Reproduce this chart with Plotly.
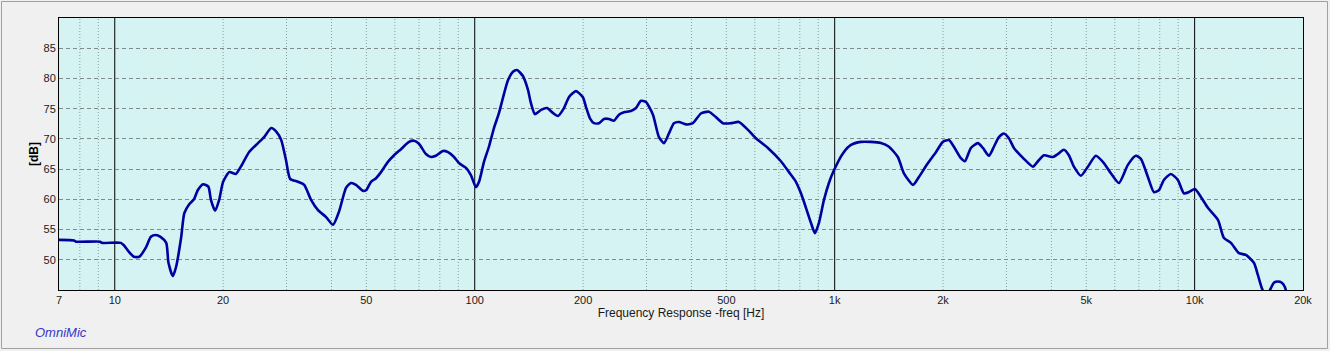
import math
import plotly.graph_objects as go

# ---- data ----
freq_hz = [7, 7.7, 7.8, 9.1, 9.2, 10.4, 10.6, 10.95, 11.3, 11.7, 12.2, 12.6, 13.0, 13.4, 13.9,
           14.1, 14.5, 14.8, 15.3, 15.6, 16.1, 16.6, 17.0, 17.6, 18.2, 18.5, 19.0, 19.5, 20.0,
           20.8, 21.7, 22.4, 23.6, 25.0, 26.0, 27.2, 28.1, 29.0, 29.9, 30.7, 32.3, 33.6, 35.1,
           36.7, 38.6, 40.4, 42.0, 43.9, 45.3, 46.8, 48.9, 49.9, 51.5, 53.2, 54.9, 57.4, 59.7,
           62.4, 65.7, 67.8, 70.0, 73.2, 75.6, 78.0, 81.6, 84.3, 87.6, 90.4, 94.6, 97.6, 100.8,
           102.8, 106.1, 109.5, 113.1, 116.8, 119.8, 123.7, 127.7, 131.0, 136.1, 140.6, 143.3,
           147.0, 152.8, 158.8, 164.9, 170.3, 177.0, 182.7, 191.1, 199.8, 203.7, 209.0, 214.4,
           221.4, 228.6, 236.0, 243.7, 251.6, 259.8, 271.6, 280.5, 289.6, 299.0, 312.7, 324.9,
           335.5, 346.4, 357.6, 369.3, 386.2, 403.8, 425.0, 447.3, 467.8, 489.3, 514.9, 542.0,
           574.1, 604.2, 652.4, 709.0, 746.3, 780.4, 806.0, 832.2, 859.2, 881.4, 904.2, 933.7,
           963.8, 995.2, 1054, 1110, 1183, 1261, 1344, 1415, 1498, 1557, 1650, 1714, 1816, 1911,
           1998, 2076, 2144, 2242, 2300, 2390, 2500, 2581, 2682, 2769, 2859, 2952, 3048, 3147,
           3355, 3554, 3670, 3813, 4038, 4170, 4332, 4473, 4619, 4831, 5051, 5317, 5596, 5853,
           6161, 6524, 6868, 7091, 7416, 7706, 7956, 8214, 8590, 8983, 9335, 9639, 10016, 10407,
           10884, 11608, 12060, 12609, 13272, 13879, 14608, 14985, 15373, 15670, 15972, 16283,
           16598, 17028, 17468, 17809, 18155]
level_db = [53.3, 53.2, 53.0, 53.0, 52.8, 52.8, 52.4, 51.3, 50.5, 50.5, 52.0, 53.8, 54.1, 53.8, 52.8,
            49.5, 47.3, 48.8, 53.8, 57.7, 59.2, 60.0, 61.5, 62.5, 62.1, 59.9, 58.1, 59.9, 62.9,
            64.5, 64.2, 65.4, 67.8, 69.3, 70.3, 71.8, 71.2, 69.8, 66.5, 63.4, 62.9, 62.4, 59.9,
            58.2, 57.1, 55.8, 58.0, 61.9, 62.7, 62.4, 61.4, 61.5, 62.9, 63.5, 64.5, 66.2, 67.3,
            68.3, 69.5, 69.7, 69.2, 67.5, 67.0, 67.2, 68.0, 67.8, 67.0, 66.0, 65.2, 64.0, 62.0,
            62.9, 66.2, 68.7, 71.8, 74.3, 76.8, 79.7, 81.1, 81.4, 80.4, 78.1, 75.9,
            74.1, 74.8, 75.1, 74.3, 73.8, 75.1, 76.9, 77.9, 76.9, 75.3, 73.4, 72.6,
            72.6, 73.3, 73.3, 73.0, 74.0, 74.4, 74.6, 75.1, 76.3, 76.1, 74.0, 70.3,
            69.3, 70.9, 72.6, 72.8, 72.4, 72.6, 74.2, 74.5, 73.6, 72.6, 72.6, 72.8,
            71.5, 70.1, 68.5, 66.3, 64.5, 62.9, 61.0, 58.6, 56.1, 54.4, 56.1, 59.9,
            62.7, 64.8, 67.6, 69.0, 69.5, 69.5, 69.3, 68.7, 67.0, 64.3, 62.4, 63.7, 66.0, 67.8,
            69.5, 69.8, 68.7, 66.8, 66.3, 68.5, 69.3, 68.5, 67.2, 68.7, 70.3, 70.9, 70.1, 68.5,
            66.7, 65.4, 66.3, 67.3, 67.0, 67.5, 68.2, 67.3, 65.4, 63.9, 65.4, 67.2, 66.0, 64.3,
            62.7, 65.7, 67.2, 66.7, 63.7, 61.2, 61.5, 63.2, 64.2, 63.2, 61.0, 61.2, 61.7, 60.4,
            58.6, 56.6, 53.6, 52.8, 51.1, 50.8, 49.5, 47.5, 45.3, 44.3, 44.4, 45.3,
            46.2, 46.4, 46.2, 45.5, 43.5]

x_tick_vals = [7, 10, 20, 50, 100, 200, 500, 1000, 2000, 5000, 10000, 20000]
x_tick_text = ["7", "10", "20", "50", "100", "200", "500", "1k", "2k", "5k", "10k", "20k"]
x_minor_grid = [8, 9, 20, 30, 40, 50, 60, 70, 80, 90, 200, 300, 400, 500, 600, 700, 800, 900,
                2000, 3000, 4000, 5000, 6000, 7000, 8000, 9000]
x_decades = [10, 100, 1000, 10000]
y_tick_vals = [50, 55, 60, 65, 70, 75, 80, 85]
x_range_hz = [7, 20000]
y_range_db = [45, 90]

# ---- layout constants ----
W, H = 1330, 351
ML, MR, MT, MB = 59, 27, 18, 61
FONT = "Liberation Sans, Arial, sans-serif"

fig = go.Figure()
fig.add_trace(go.Scatter(x=freq_hz, y=level_db, mode="lines",
                         line=dict(color="#0000a0", width=2.6, shape="spline", smoothing=0.6),
                         hoverinfo="x+y", showlegend=False))

xr = [math.log10(x_range_hz[0]), math.log10(x_range_hz[1])]

fig.update_layout(
    width=W, height=H,
    margin=dict(l=ML, r=MR, t=MT, b=MB, pad=0),
    paper_bgcolor="#f0f0f0",
    plot_bgcolor="#d6f3f3",
    font=dict(family=FONT, size=11, color="#1a1a1a"),
    xaxis=dict(type="log", range=xr, tickmode="array", tickvals=x_tick_vals, ticktext=x_tick_text,
               showgrid=False, zeroline=False, ticks="", ticklen=0,
               showline=True, mirror=True, linecolor="#000000", linewidth=1,
               tickfont=dict(size=11, color="#1a1a1a"),
               title=dict(text="Frequency Response -freq [Hz]", font=dict(size=12, color="#1a1a1a"),
                          standoff=2),
               minor=dict(showgrid=False, ticks="")),
    yaxis=dict(range=y_range_db, tickmode="array", tickvals=y_tick_vals, showgrid=True,
               gridcolor="#7f8c8c", griddash="4px,3px", gridwidth=1, zeroline=False,
               ticks="", ticklen=0,
               showline=True, mirror=True, linecolor="#000000", linewidth=1,
               tickfont=dict(size=11, color="#1a1a1a"),
               title=dict(text="<b>[dB]</b>", font=dict(size=12, color="#000000"), standoff=2)),
)

# vertical grid: dotted minor lines and solid decade lines
for f in x_minor_grid:
    fig.add_shape(type="line", xref="x", yref="paper", layer="between",
                  x0=f, x1=f, y0=0, y1=1,
                  line=dict(color="#8c9c9c", width=1, dash="1px,2px"))
for d in x_decades:
    fig.add_shape(type="line", xref="x", yref="paper", layer="between",
                  x0=d, x1=d, y0=0, y1=1,
                  line=dict(color="#000000", width=1))

pw, ph = W - ML - MR, H - MT - MB
fig.add_shape(type="rect", xref="paper", yref="paper", layer="below",
              x0=(1.5 - ML) / pw, x1=(W - 2.5 - ML) / pw,
              y0=(ph + MT - (H - 2.5)) / ph, y1=(ph + MT - 1.5) / ph,
              line=dict(color="#a0a0a0", width=1), fillcolor="rgba(0,0,0,0)")
fig.add_annotation(xref="paper", yref="paper", x=(33 - ML) / pw, y=(ph + MT - 332) / ph,
                   xanchor="left", yanchor="middle", showarrow=False,
                   text="<i>OmniMic</i>", font=dict(family=FONT, size=13, color="#3535c8"))

fig.write_html("out.html")
